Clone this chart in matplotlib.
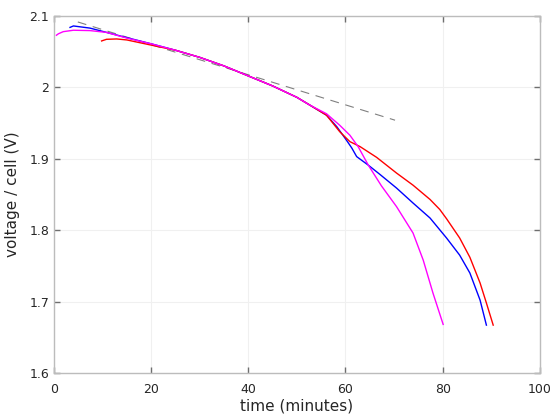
import matplotlib
matplotlib.use("Agg")
import matplotlib.pyplot as plt

# common part shared by all three discharges (time in minutes, volts per cell)
common_t = [15, 20, 25, 30, 35, 40, 45, 50, 52.7, 56.1]
common_v = [2.069, 2.061, 2.052, 2.042, 2.030, 2.016, 2.002, 1.986, 1.975, 1.961]

blue_t = [3.3, 4.0, 7.4, 10.8, 14.2] + common_t[1:] + [58.2, 60.2, 61.3, 62.3, 64.7, 67.1, 70.5,
                                                       73.9, 77.4, 80.8, 83.5, 85.6, 87.7, 89.0]
blue_v = [2.084, 2.086, 2.083, 2.077, 2.071] + common_v[1:] + [1.945, 1.926, 1.915, 1.903, 1.891, 1.878, 1.859,
                                                              1.838, 1.817, 1.789, 1.765, 1.740, 1.702, 1.667]

red_t = [9.8, 10.8, 12.9, 15.0, 17.7] + common_t[2:] + [58.8, 60.9, 63.0, 66.4, 70.5, 73.9, 77.4,
                                                       79.4, 80.8, 83.5, 85.6, 87.7, 89.0, 90.4]
red_v = [2.065, 2.0673, 2.0678, 2.0664, 2.0625] + common_v[2:] + [1.938, 1.924, 1.917, 1.902, 1.880, 1.863, 1.843,
                                                                 1.829, 1.816, 1.789, 1.762, 1.726, 1.698, 1.667]

mag_t = [0.5, 0.9, 1.9, 4.0, 7.4, 10.8] + common_t[:-1] + [56.1, 58.8, 60.9, 62.6, 64.7, 67.4, 70.5,
                                                           73.9, 76.0, 78.0, 80.1]
mag_v = [2.073, 2.075, 2.078, 2.080, 2.0795, 2.077] + common_v[:-1] + [1.963, 1.947, 1.933, 1.917, 1.891, 1.862, 1.833,
                                                                      1.796, 1.758, 1.712, 1.668]

# straight reference line
ref_t = [4.9, 70.2]
ref_v = [2.0916, 1.954]

fig = plt.figure(figsize=(5.6, 4.2), dpi=100)
ax = fig.add_axes([0.0964, 0.112, 0.8676, 0.85])

ax.plot(ref_t, ref_v, color="#808080", lw=0.8, dashes=(8, 6))
ax.plot(blue_t, blue_v, color="#0000ff", lw=1.0)
ax.plot(red_t, red_v, color="#ff0000", lw=1.0)
ax.plot(mag_t, mag_v, color="#ff00ff", lw=1.0)

ax.set_xlim(0, 100)
ax.set_ylim(1.6, 2.1)
ax.set_xticks([0, 20, 40, 60, 80, 100])
ax.set_yticks([1.6, 1.7, 1.8, 1.9, 2.0, 2.1])
ax.set_yticklabels(["1.6", "1.7", "1.8", "1.9", "2", "2.1"])

ax.grid(True, color="#f0f0f0", lw=0.8)
ax.set_axisbelow(True)
for s in ax.spines.values():
    s.set_color("#bcbcbc")
    s.set_linewidth(1.0)
ax.tick_params(direction="in", length=4, width=1, color="#6e6e6e",
               top=True, right=True, labelsize=9, labelcolor="#262626")
ax.tick_params(axis="x", pad=7)

ax.set_xlabel("time (minutes)", fontsize=11, color="#262626", labelpad=2)
ax.set_ylabel("voltage / cell (V)", fontsize=11, color="#262626", labelpad=7)

fig.savefig("out.png", dpi=100)
